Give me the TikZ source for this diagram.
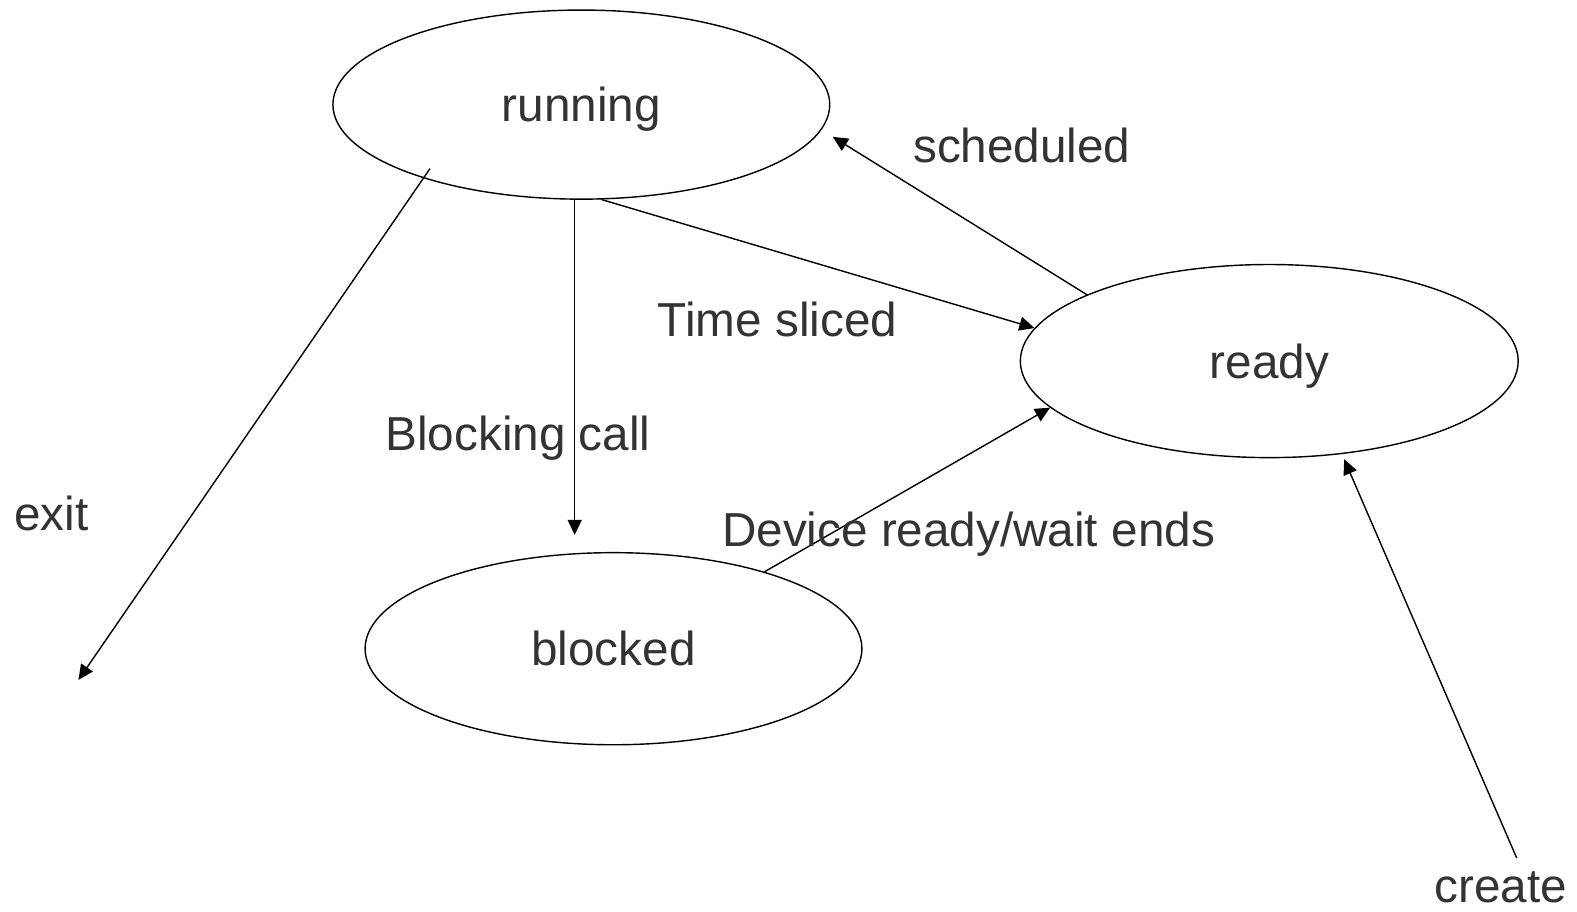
\documentclass[tikz,border=0pt]{standalone}
\usepackage{fontspec}
\setmainfont{Liberation Sans}
\usetikzlibrary{shapes.geometric,arrows.meta,calc}
\definecolor{labelgray}{RGB}{51,51,51}
\begin{document}
\begin{tikzpicture}[x=0.5pt,y=-0.5pt,
  txt/.style={text=labelgray,font=\fontsize{23.7}{28}\selectfont},
  state/.style={ellipse,draw,line width=0.7pt,inner sep=0pt,text height=17pt,text depth=0pt,txt},
  tlabel/.style={anchor=base,inner sep=0pt,txt},
  flow/.style={line width=0.7pt,-{Triangle[length=7.5pt,width=7pt]}}]
  \useasboundingbox (0,0) rectangle (1568,906);

  % states (sizes in pt: half the drawing units)
  \node[state,minimum width=247pt,minimum height=94pt] (running) at (578,104) {running};
  \node[state,minimum width=247.5pt,minimum height=96pt] (ready)   at (1262,359) {ready};
  \node[state,minimum width=247pt,minimum height=95.5pt] (blocked) at (610,645) {blocked};

  % free ends
  \coordinate (exitend)  at (78,676);
  \coordinate (createend) at (1508,853);

  % transitions
  \draw[flow] (running.-78) -- (ready.172.1);
  \draw[flow,shorten >=6.6pt] (ready.160.8) -- (running.-6.5);
  \draw[flow,shorten >=8.5pt] (running.-94.9) -- (running.-94.9 |- blocked.north);
  \draw[flow] (blocked.27.8) -- (ready.192.2);
  \draw[flow,shorten <=-5.8pt] (running.-155.1) -- (exitend);
  \draw[flow,shorten >=2.8pt] (createend) -- (ready.-52.4);

  % transition labels
  \node[tlabel] (lsched)  at (1016,162) {scheduled};
  \node[tlabel] (ltime)   at (773,335)  {Time sliced};
  \node[tlabel] (lblock)  at (515,448)  {Blocking call};
  \node[tlabel] (lexit)   at (51,527)   {exit};
  \node[tlabel] (ldevice) at (963,543)  {Device ready/wait ends};
  \node[tlabel] (lcreate) at (1492,897) {create};
\end{tikzpicture}
\end{document}
